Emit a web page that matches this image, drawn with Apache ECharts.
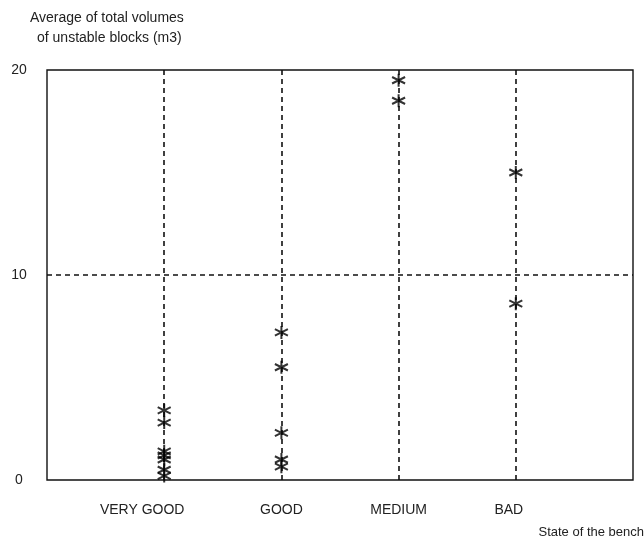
<!DOCTYPE html>
<html>
<head>
<meta charset="utf-8">
<script src="https://cdn.jsdelivr.net/npm/echarts@6/dist/echarts.min.js"></script>
<style>html,body{margin:0;padding:0;background:#fff}#c{width:644px;height:541px}</style>
</head>
<body>
<div id="c"></div>
<script>
const categories = ['VERY GOOD', 'GOOD', 'MEDIUM', 'BAD'];
const veryGood = [3.4, 2.8, 1.4, 1.2, 1.0, 0.5, 0.2];
const good = [7.2, 5.5, 2.3, 1.0, 0.65];
const medium = [19.5, 18.5];
const bad = [15.0, 8.6];
const yTicks = [0, 10, 20];
const yGridLines = [10];

const groups = [veryGood, good, medium, bad];
const points = [];
groups.forEach((vals, i) => vals.forEach(v => points.push([i + 1, v])));

const star = 'path://M0,-10L0,10M-8.66,-5L8.66,5M-8.66,5L8.66,-5';
const font = 'Liberation Sans';
const labelShift = [44, 0, 0, 14]; // right padding to nudge labels left

const rich = {};
categories.forEach((c, i) => { rich['s' + i] = { padding: [0, labelShift[i], 0, 0], fontFamily: font, fontSize: 14, color: '#222' }; });

const chart = echarts.init(document.getElementById('c'));
chart.setOption({
  animation: false,
  backgroundColor: '#fff',
  grid: { left: 47, right: 11, top: 70, bottom: 61, show: true, borderColor: '#111', borderWidth: 1.4 },
  graphic: [
    { type: 'text', left: 30, top: 11, style: { text: 'Average of total volumes', fontFamily: font, fontSize: 14, fill: '#222' } },
    { type: 'text', left: 37, top: 31, style: { text: 'of unstable blocks (m3)', fontFamily: font, fontSize: 14, fill: '#222' } },
    { type: 'text', right: 0, top: 526, style: { text: 'State of the bench', fontFamily: font, fontSize: 13, fill: '#222' } }
  ],
  xAxis: {
    type: 'value', min: 0, max: categories.length + 1, interval: 1,
    axisLine: { show: false }, axisTick: { show: false },
    axisLabel: { margin: 23, rich: rich,
      formatter: v => categories[v - 1] ? '{s' + (v - 1) + '|' + categories[v - 1] + '}' : '' },
    splitLine: { show: false }
  },
  yAxis: {
    type: 'value', min: 0, max: 20, interval: 10,
    axisLine: { show: false }, axisTick: { show: false },
    axisLabel: { margin: 28, align: 'center', fontFamily: font, fontSize: 14, color: '#222',
      formatter: v => yTicks.includes(v) ? String(v) : '' },
    splitLine: { show: false }
  },
  series: [{
    type: 'scatter',
    data: [],
    silent: true,
    markLine: {
      silent: true, symbol: 'none', label: { show: false },
      lineStyle: { type: [5, 4], color: '#111', width: 1.6 },
      data: categories.map((c, i) => ({ xAxis: i + 1 })).concat(yGridLines.map(v => ({ yAxis: v })))
    }
  }, {
    type: 'scatter',
    data: points,
    symbol: star,
    symbolSize: 13,
    z: 5,
    itemStyle: { color: 'none', borderColor: '#000', borderWidth: 2 }
  }]
});
</script>
</body>
</html>
